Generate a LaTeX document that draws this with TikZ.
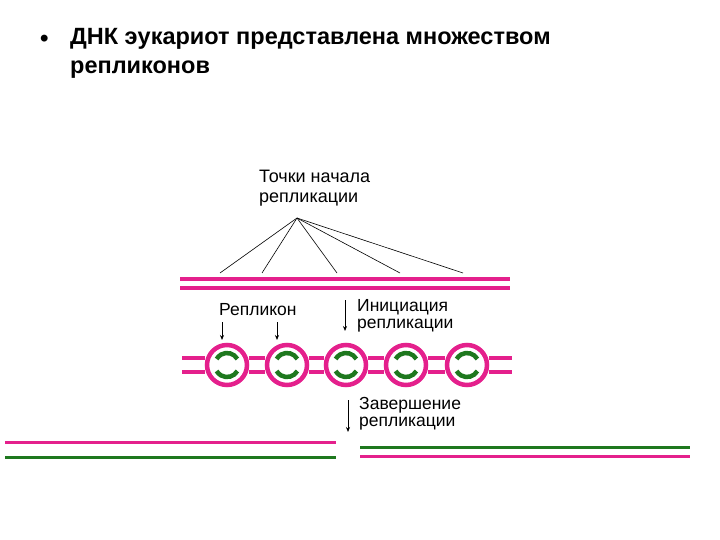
\documentclass[tikz,border=0pt]{standalone}
\usepackage{fontspec}
\usetikzlibrary{arrows.meta}
\setmainfont{Liberation Sans}
\definecolor{pnk}{RGB}{228,32,140}
\definecolor{grn}{RGB}{30,120,30}
\begin{document}
\begin{tikzpicture}[x=1pt,y=-1pt,
  pk/.style={draw=pnk,line width=4.5pt},
  gr/.style={draw=grn,line width=4.5pt},
  lbl/.style={anchor=north west,inner sep=0pt,font=\fontsize{17.5}{17}\selectfont,align=left},
  arr/.style={-{Stealth[length=5pt,width=4pt]},line width=0.7pt},
  fan/.style={line width=0.6pt}]
\useasboundingbox (0,0) rectangle (720,540);
\node[anchor=west,inner sep=0pt,font=\fontsize{24}{24}\selectfont\bfseries] (bul) at (40,41) {•};
\node[anchor=north west,inner sep=0pt,align=left,font=\fontsize{23.5}{29}\selectfont\bfseries] (title) at (70,28) {ДНК эукариот представлена множеством\\репликонов};
% origins
\node[lbl,font=\fontsize{18}{20}\selectfont] (ori) at (259,170) {Точки начала\\репликации};
\coordinate (src) at (297,218);
\foreach \x/\n in {220/a,262/b,337/c,400/d,463/e}{\coordinate (o\n) at (\x,273); \draw[fan] (src) -- (o\n);}
\coordinate (l1a) at (180,279); \coordinate (l1b) at (510,279);
\coordinate (l2a) at (180,288); \coordinate (l2b) at (510,288);
\draw[pk] (l1a) -- (l1b); \draw[pk] (l2a) -- (l2b);
% labels
\node[lbl] (rep) at (219,303) {Репликон};
\coordinate (r1s) at (222,322); \coordinate (r1e) at (222,340);
\coordinate (r2s) at (277,322); \coordinate (r2e) at (277,340);
\draw[arr] (r1s) -- (r1e); \draw[arr] (r2s) -- (r2e);
\node[lbl] (ini) at (357,299) {Инициация\\репликации};
\coordinate (i1) at (345,300); \coordinate (i2) at (345,331);
\draw[arr] (i1) -- (i2);
% bubbles
\foreach \c [count=\i] in {227,287,346,406,467}{
  \node[circle,draw=pnk,line width=4.5pt,minimum size=40pt,inner sep=0pt] (b\i) at (\c,365) {};
  \draw[gr] (\c,365) ++(-30:12) arc[start angle=-30,end angle=-150,radius=12];
  \draw[gr] (\c,365) ++(30:12) arc[start angle=30,end angle=150,radius=12];
}
\coordinate (s0) at (182,358); \coordinate (t0) at (182,372);
\coordinate (s6) at (512,358); \coordinate (t6) at (512,372);
\draw[pk] (s0) -- (b1.west|-s0); \draw[pk] (t0) -- (b1.west|-t0);
\foreach \i/\j in {1/2,2/3,3/4,4/5}{
  \draw[pk] (b\i.east|-s0) -- (b\j.west|-s0);
  \draw[pk] (b\i.east|-t0) -- (b\j.west|-t0);}
\draw[pk] (b5.east|-s0) -- (s6); \draw[pk] (b5.east|-t0) -- (t6);
% termination
\node[lbl] (ter) at (359,397) {Завершение\\репликации};
\coordinate (e1) at (348,400); \coordinate (e2) at (348,432);
\draw[arr] (e1) -- (e2);
\coordinate (p1) at (5,442); \coordinate (p2) at (336,442);
\coordinate (g1) at (5,457); \coordinate (g2) at (336,457);
\draw[draw=pnk,line width=3pt] (p1) -- (p2);
\draw[draw=grn,line width=3pt] (g1) -- (g2);
\coordinate (g3) at (360,447); \coordinate (g4) at (690,447);
\coordinate (p3) at (360,456); \coordinate (p4) at (690,456);
\draw[draw=grn,line width=3pt] (g3) -- (g4);
\draw[draw=pnk,line width=3pt] (p3) -- (p4);
\end{tikzpicture}
\end{document}
